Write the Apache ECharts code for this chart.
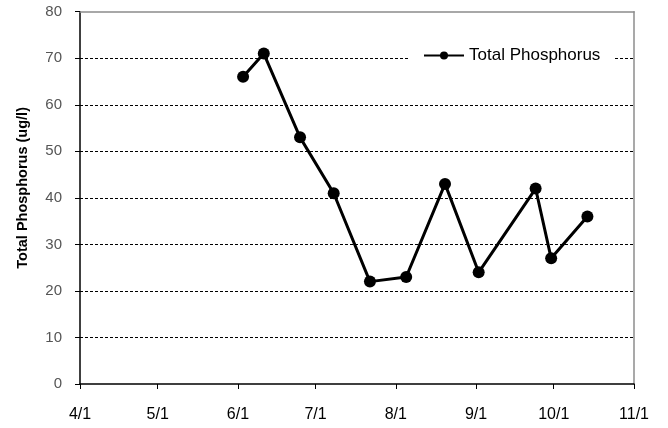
<!DOCTYPE html>
<html>
<head>
<meta charset="utf-8">
<script src="https://cdn.jsdelivr.net/npm/echarts@6/dist/echarts.min.js"></script>
<style>
html,body{margin:0;padding:0;background:#fff;}
#chart{width:668px;height:428px;}
</style>
</head>
<body>
<div id="chart"></div>
<script>
const sampleDates = ['2010-06-03','2010-06-11','2010-06-25','2010-07-08','2010-07-22','2010-08-05','2010-08-20','2010-09-02','2010-09-24','2010-09-30','2010-10-14'];
const phosphorus = [66, 71, 53, 41, 22, 23, 43, 24, 42, 27, 36];
const seriesName = 'Total Phosphorus';
const yTitle = 'Total Phosphorus (ug/l)';
const xMin = '2010-04-01';
const xMax = '2010-11-01';
const yTicks = [0, 10, 20, 30, 40, 50, 60, 70, 80];

const chart = echarts.init(document.getElementById('chart'), null, {renderer: 'canvas'});
const FONT = '"Liberation Sans", Arial, sans-serif';
const frameAxis = {
  show: true,
  axisLine: {show: true, onZero: false, lineStyle: {color: '#8c8c8c', width: 1.5}},
  axisTick: {show: false}, axisLabel: {show: false}, splitLine: {show: false}
};
chart.setOption({
  animation: false,
  backgroundColor: '#fff',
  textStyle: {fontFamily: FONT},
  grid: {left: 80, right: 34, top: 11.7, bottom: 44, outerBoundsMode: 'none', containLabel: false},
  legend: {
    data: [seriesName],
    left: 408, top: 45,
    backgroundColor: '#fff',
    padding: [2, 14, 2, 15],
    itemWidth: 40, itemHeight: 10, itemGap: 0,
    textStyle: {fontSize: 17, color: '#000', fontFamily: FONT}
  },
  xAxis: [{
    type: 'time',
    min: xMin, max: xMax,
    minInterval: 28 * 86400000,
    maxInterval: 31 * 86400000,
    axisLine: {show: true, lineStyle: {color: '#000', width: 1.5}},
    axisTick: {show: true, length: 5, lineStyle: {color: '#000'}},
    splitLine: {show: false},
    axisLabel: {
      color: '#000', fontSize: 16, margin: 23, fontFamily: FONT,
      showMinLabel: true, showMaxLabel: true, hideOverlap: false,
      formatter: function (v) { const d = new Date(v); return (d.getMonth() + 1) + '/' + d.getDate(); }
    }
  }, Object.assign({type: 'time', min: xMin, max: xMax, position: 'top'}, frameAxis)],
  yAxis: [{
    type: 'value',
    min: yTicks[0], max: yTicks[yTicks.length - 1], interval: 10,
    name: yTitle,
    nameLocation: 'middle', nameGap: 50, nameRotate: 90,
    nameTextStyle: {fontSize: 14.5, fontWeight: 'bold', color: '#000', fontFamily: FONT, padding: [0, 0, 0, 20]},
    axisLine: {show: true, lineStyle: {color: '#000', width: 1.5}},
    axisTick: {show: true, length: 5, lineStyle: {color: '#000'}},
    splitLine: {show: true, showMaxLine: false, showMinLine: false, lineStyle: {color: '#000', type: [3, 2], width: 1}},
    axisLabel: {color: '#555', fontSize: 15, margin: 18, fontFamily: FONT}
  }, Object.assign({type: 'value', min: yTicks[0], max: yTicks[yTicks.length - 1], position: 'right'}, frameAxis)],
  series: [{
    name: seriesName,
    type: 'line',
    data: sampleDates.map((d, i) => [d, phosphorus[i]]),
    symbol: 'circle', symbolSize: 12,
    itemStyle: {color: '#000'},
    lineStyle: {color: '#000', width: 3},
    z: 5
  }]
});
</script>
</body>
</html>
